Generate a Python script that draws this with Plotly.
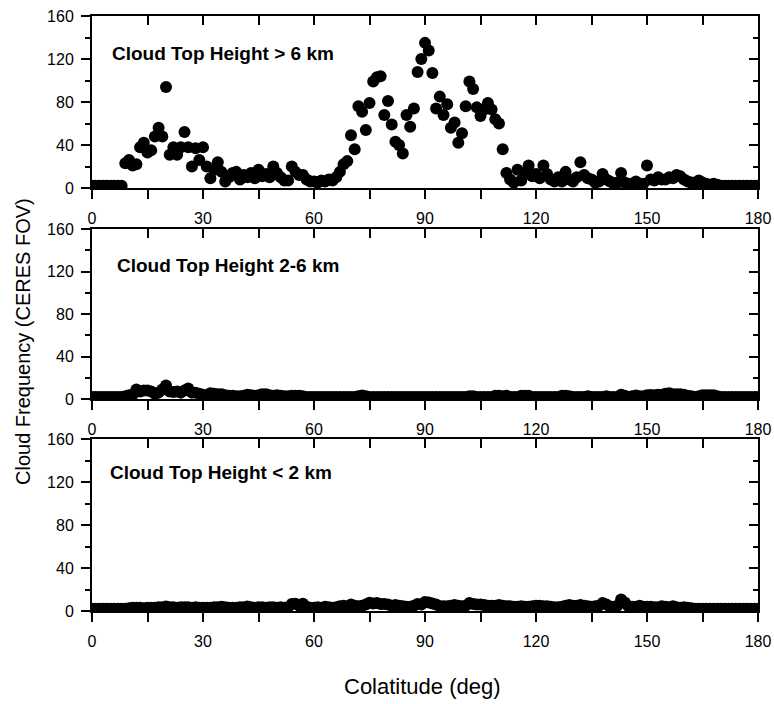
import plotly.graph_objects as go

# Colatitude (deg), 1-degree bins
colat = list(range(0, 181))

# Cloud Top Height > 6 km
high = [
    2, 2, 2, 2, 2, 2, 2, 2, 2, 23,            # 0-9
    26, 21, 22, 38, 42, 33, 35, 48, 56, 48,   # 10-19
    94, 31, 38, 31, 38, 52, 38, 20, 37, 26,   # 20-29
    38, 20, 9, 17, 24, 15, 6, 10, 14, 15,     # 30-39
    8, 12, 10, 14, 9, 17, 11, 13, 10, 20,     # 40-49
    14, 10, 7, 7, 20, 15, 12, 12, 8, 6,       # 50-59
    6, 5, 7, 6, 8, 7, 10, 15, 22, 25,         # 60-69
    49, 36, 76, 71, 54, 79, 99, 103, 104, 68, # 70-79
    81, 59, 43, 40, 32, 68, 57, 74, 108, 120, # 80-89
    135, 128, 107, 74, 85, 68, 78, 56, 61, 42,# 90-99
    51, 76, 99, 92, 75, 67, 73, 79, 73, 64,   # 100-109
    60, 36, 14, 8, 5, 17, 7, 13, 21, 11,      # 110-119
    13, 9, 21, 13, 8, 6, 10, 6, 15, 8,        # 120-129
    6, 10, 24, 12, 9, 8, 5, 6, 13, 8,         # 130-139
    6, 4, 5, 14, 5, 4, 3, 6, 3, 4,            # 140-149
    21, 8, 7, 10, 8, 8, 10, 9, 12, 11,        # 150-159
    8, 6, 5, 4, 7, 5, 4, 3, 4, 3,             # 160-169
    2, 2, 2, 2, 2, 2, 2, 2, 2, 2, 2,          # 170-180
]

# Cloud Top Height 2-6 km
mid = [
    2, 2, 2, 2, 2, 2, 2, 2, 2, 2.5,                 # 0-9
    3.5, 4, 9, 7, 8, 8, 7, 5, 6, 9,                 # 10-19
    12.6, 7, 6.5, 7, 6, 8, 10, 6, 6, 5,             # 20-29
    4, 3.5, 5.5, 5, 4.5, 4.5, 3.5, 3, 3, 2.5,       # 30-39
    2.5, 3, 4, 3.5, 3, 3.5, 4.5, 4.5, 3.5, 3,       # 40-49
    3.5, 3, 2.5, 2.5, 3, 3, 3, 2.5, 2, 2,           # 50-59
    2, 2, 2, 2, 2, 2, 2, 2, 2, 2,                   # 60-69
    2, 2, 2.5, 3.2, 2.5, 2, 2, 2, 2, 2,             # 70-79
    2, 2, 2, 2, 2, 2, 2, 2, 2, 2,                   # 80-89
    2, 2, 2, 2, 2, 2, 2, 2, 2, 2,                   # 90-99
    2, 2, 2.5, 2.5, 2, 2, 2, 2, 2, 3,               # 100-109
    3, 2.5, 3, 2, 2, 2, 3, 3, 3, 2,                 # 110-119
    2, 2, 2, 2, 2, 2, 2, 3, 3, 2.5,                 # 120-129
    2, 2, 2, 2, 2.5, 2, 2, 2, 2, 2.5,               # 130-139
    2, 2, 2, 4, 3, 2, 2.5, 3.3, 2.5, 2.5,           # 140-149
    3.5, 3.8, 3.5, 4, 4, 5, 5.5, 4.5, 4.5, 4.5,     # 150-159
    4, 3, 2.5, 2, 2.5, 3.5, 3.5, 3.5, 3.5, 2.5,     # 160-169
    2, 2, 2, 2, 2, 2, 2, 2, 2, 2, 2,                # 170-180
]

# Cloud Top Height < 2 km
low = [
    2, 2, 2, 2, 2, 2, 2, 2, 2, 2,                   # 0-9
    2.5, 3, 3, 3, 2.5, 3, 3, 3, 3.5, 3.5,           # 10-19
    4.2, 3.5, 3.5, 3, 3.5, 3.5, 3.5, 3, 3.5, 3,     # 20-29
    3, 3, 3, 3.5, 3.5, 4, 3.5, 3, 3, 3,             # 30-39
    3.5, 3.5, 4.2, 3.5, 3, 3.5, 3.5, 3, 3.5, 3.5,   # 40-49
    3, 3.5, 3, 3.5, 6.5, 6.7, 5, 6.7, 4, 3,         # 50-59
    3, 3.5, 3, 4, 3.5, 3, 3.5, 4.5, 5, 4,           # 60-69
    6, 5, 4.5, 5, 6, 7.6, 7, 7.5, 6.5, 6.5,         # 70-79
    6, 5, 5.5, 5, 4.5, 4, 4, 5, 6.5, 6,             # 80-89
    8.4, 8, 7, 6, 4.5, 4.5, 4.5, 5, 5.5, 5,         # 90-99
    4.5, 5, 7.5, 6.5, 6, 6, 5.5, 5, 5, 5,           # 100-109
    5.5, 5, 4.5, 4.5, 4, 4, 4.5, 4, 4, 4.5,         # 110-119
    5, 5, 4.5, 4.5, 4, 3.5, 3.5, 4, 5, 5.5,         # 120-129
    5, 5, 5.5, 5, 4.5, 4, 4.5, 5, 7.5, 6,           # 130-139
    4, 4, 5, 10.8, 8, 4.5, 4, 4, 5, 4,              # 140-149
    4, 4, 3.5, 3.5, 4.5, 4, 3.5, 4.5, 3.5, 3,       # 150-159
    3.5, 3, 2.5, 2, 2, 2, 2, 2, 2, 2,               # 160-169
    2, 2, 2, 2, 2, 2, 2, 2, 2, 2, 2,                # 170-180
]

panel_labels = ["Cloud Top Height > 6 km", "Cloud Top Height 2-6 km", "Cloud Top Height < 2 km"]
series = [high, mid, low]

x_ticks = [0, 30, 60, 90, 120, 150, 180]
y_ticks = [0, 40, 80, 120, 160]

FONT = "Liberation Sans, Arial, sans-serif"

W, H = 774, 704
L, R, T, B = 92, 16, 16, 93
plot_h = H - T - B
plot_w = W - L - R

def py2paper(py):
    return (H - B - py) / plot_h

def px2paper(px):
    return (px - L) / plot_w

# panel pixel extents (top, bottom)
panels_px = [(16, 188), (229, 399), (439, 611)]

fig = go.Figure()
layout = dict(
    width=W, height=H,
    margin=dict(l=L, r=R, t=T, b=B, autoexpand=False),
    paper_bgcolor="white", plot_bgcolor="white",
    showlegend=False,
    font=dict(family=FONT, color="black", size=16),
)

for i, (vals, (top, bot)) in enumerate(zip(series, panels_px)):
    n = i + 1
    ov = i + 4
    xs = "" if n == 1 else str(n)
    dom = [max(0, py2paper(bot)), min(1, py2paper(top))]

    fig.add_trace(go.Scatter(
        x=colat, y=vals, mode="markers",
        marker=dict(size=12, color="black", line=dict(width=0)),
        xaxis="x" + xs, yaxis="y" + xs, cliponaxis=True, hoverinfo="skip",
    ))
    fig.add_trace(go.Scatter(
        x=[None], y=[None], mode="markers",
        xaxis="x%d" % ov, yaxis="y%d" % ov, hoverinfo="skip", showlegend=False,
    ))

    layout["xaxis" + xs] = dict(
        domain=[0, 1], anchor="y" + xs, range=[0, 180], automargin=False,
        tickmode="array", tickvals=x_ticks, ticktext=[str(v) for v in x_ticks],
        ticks="outside", ticklen=9, tickwidth=2, tickcolor="black",
        minor=dict(tickvals=[15, 45, 75, 105, 135, 165], ticks="outside", ticklen=9, tickwidth=2, tickcolor="black"),
        showline=True, linewidth=2, linecolor="black", mirror=False,
        showgrid=False, zeroline=False, fixedrange=True,
        tickfont=dict(size=16, family=FONT, color="black"),
        ticklabelstandoff=6,
    )
    layout["yaxis" + xs] = dict(
        domain=dom, anchor="x" + xs, range=[0, 160], automargin=False,
        tickmode="array", tickvals=y_ticks, ticktext=[str(v) for v in y_ticks],
        ticks="outside", ticklen=9, tickwidth=2, tickcolor="black",
        minor=dict(tickvals=[20, 60, 100, 140], ticks="outside", ticklen=5, tickwidth=2, tickcolor="black"),
        showline=True, linewidth=2, linecolor="black", mirror=False,
        showgrid=False, zeroline=False, fixedrange=True,
        tickfont=dict(size=16, family=FONT, color="black"),
        ticklabelstandoff=4,
    )
    layout["xaxis%d" % ov] = dict(
        overlaying="x" + xs, anchor="y" + xs, side="top", range=[0, 180], automargin=False,
        tickmode="array", tickvals=x_ticks,
        ticks="inside", ticklen=9, tickwidth=2, tickcolor="black",
        minor=dict(tickvals=[15, 45, 75, 105, 135, 165], ticks="inside", ticklen=9, tickwidth=2, tickcolor="black"),
        showticklabels=False,
        showline=True, linewidth=2, linecolor="black",
        showgrid=False, zeroline=False, fixedrange=True,
    )
    layout["yaxis%d" % ov] = dict(
        overlaying="y" + xs, anchor="x" + xs, side="right", range=[0, 160], automargin=False,
        tickmode="array", tickvals=y_ticks,
        ticks="inside", ticklen=9, tickwidth=2, tickcolor="black",
        minor=dict(tickvals=[20, 60, 100, 140], ticks="inside", ticklen=5, tickwidth=2, tickcolor="black"),
        showticklabels=False,
        showline=True, linewidth=2, linecolor="black",
        showgrid=False, zeroline=False, fixedrange=True,
    )

label_pos = [(110, 53), (115, 265), (108, 473)]
annotations = []
for text, (lx, ly) in zip(panel_labels, label_pos):
    annotations.append(dict(
        text="<b>%s</b>" % text, xref="paper", yref="paper",
        x=px2paper(lx), y=py2paper(ly), xanchor="left", yanchor="middle",
        showarrow=False, font=dict(size=19, family=FONT, color="black"),
    ))
annotations.append(dict(
    text="Cloud Frequency (CERES FOV)", xref="paper", yref="paper",
    x=px2paper(23), y=py2paper(342), xanchor="center", yanchor="middle",
    textangle=-90, showarrow=False, font=dict(size=20, family=FONT, color="black"),
))
annotations.append(dict(
    text="Colatitude (deg)", xref="paper", yref="paper",
    x=px2paper(422), y=py2paper(686), xanchor="center", yanchor="middle",
    showarrow=False, font=dict(size=22, family=FONT, color="black"),
))
layout["annotations"] = annotations

fig.update_layout(**layout)
fig.write_html("out.html")
